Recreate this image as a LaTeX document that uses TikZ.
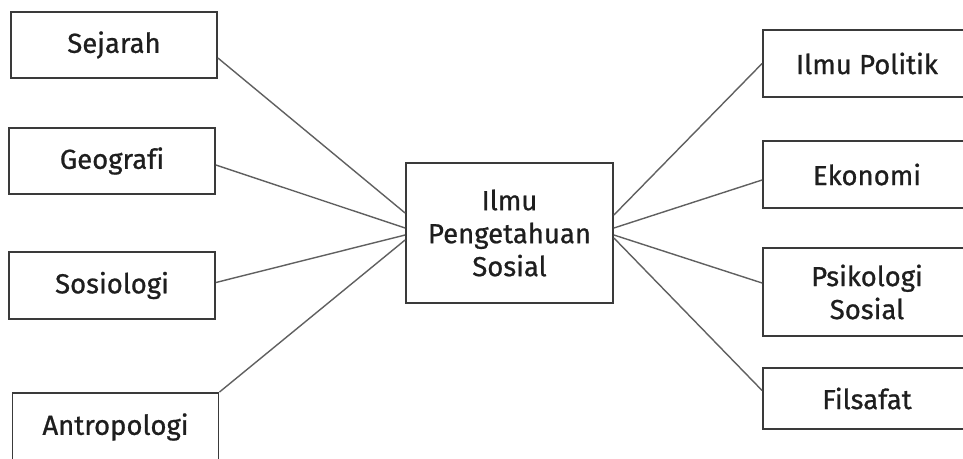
\documentclass[tikz,border=0pt]{standalone}
\usepackage{fontspec}
\setmainfont{Fira Sans}[Ligatures=NoCommon, FakeBold=0]
\usetikzlibrary{calc}
\definecolor{boxline}{HTML}{3A3A3A}
\definecolor{conn}{HTML}{606060}
\definecolor{txt}{HTML}{1E1E1E}
\begin{document}
\begin{tikzpicture}[x=1pt,y=1pt,
  box/.style={draw=boxline, line width=1.8pt, fill=white, inner sep=0pt,
    minimum width=#1, align=center, text=txt,
    font=\fontsize{27.5}{33}\selectfont\addfontfeature{FakeBold=0.8}},
  box/.default=206pt,
  link/.style={draw=conn, line width=1.4pt}]
\useasboundingbox (0,0) rectangle (963,-458);
\clip (0,0) rectangle (963,-458);
\fill[white] (0,0) rectangle (963,-458);
% left
\node[box, minimum height=66pt] (sej) at (114,-45) {Sejarah};
\node[box, minimum height=66pt] (geo) at (112,-161) {Geografi};
\node[box, minimum height=67pt] (sos) at (112,-285.5) {Sosiologi};
\node[box, minimum height=68pt] (ant) at (115.5,-427) {Antropologi};
% center
\node[box=207pt, minimum height=140pt] (ips) at (509.5,-233) {Ilmu\\Pengetahuan\\Sosial};
% right
\node[box=208pt, minimum height=67pt] (pol) at (867,-63.5) {Ilmu Politik};
\node[box=208pt, minimum height=67pt] (eko) at (867,-174.5) {Ekonomi};
\node[box=208pt, minimum height=88pt] (psi) at (867,-292) {Psikologi\\Sosial};
\node[box=208pt, minimum height=61pt] (fil) at (867,-398.5) {Filsafat};
% connectors
\draw[link] ([yshift=-13pt]sej.east) -- ([yshift=20pt]ips.west);
\draw[link] ([yshift=-4pt]geo.east) -- ([yshift=5pt]ips.west);
\draw[link] ([yshift=3pt]sos.east) -- ([yshift=-2pt]ips.west);
\draw[link] (ant.north east) -- ([yshift=-7pt]ips.west);
\draw[link] ([yshift=18pt]ips.east) -- (pol.west);
\draw[link] ([yshift=5pt]ips.east) -- ([yshift=-5.5pt]eko.west);
\draw[link] ([yshift=-2pt]ips.east) -- ([yshift=9pt]psi.west);
\draw[link] ([yshift=-5pt]ips.east) -- ([yshift=8pt]fil.west);
\end{tikzpicture}
\end{document}
